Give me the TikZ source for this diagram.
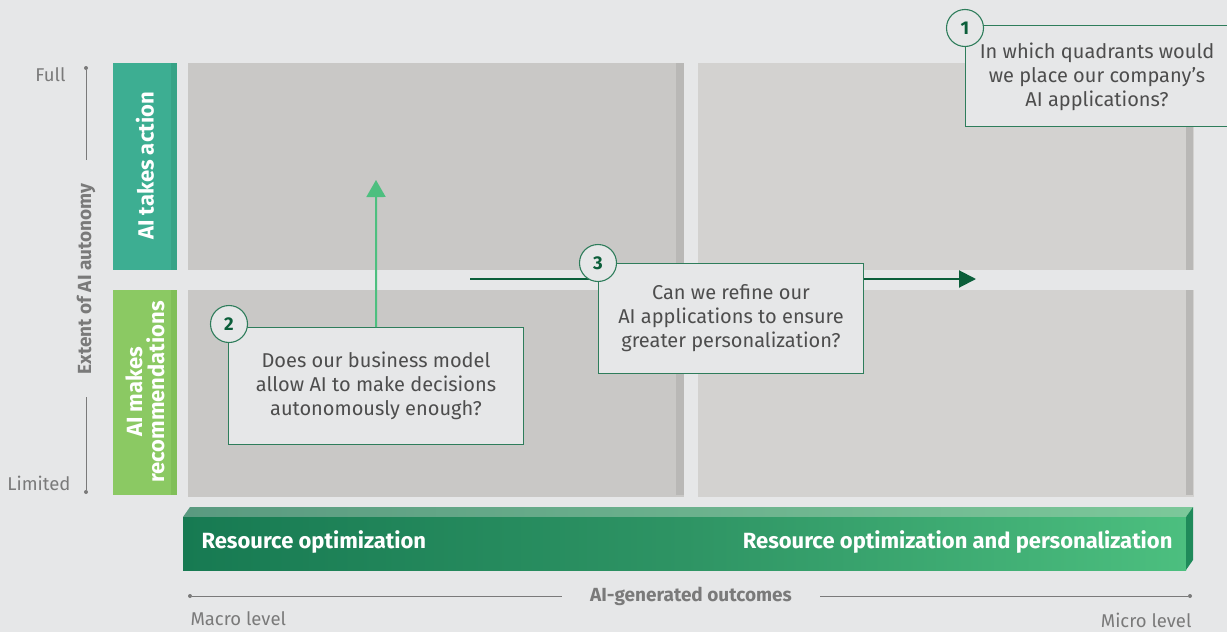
\documentclass[tikz,border=0pt]{standalone}
\usepackage{fontspec}
\setmainfont{Fira Sans}
\usetikzlibrary{arrows.meta}
\definecolor{bg}{HTML}{E6E7E8}
\definecolor{quadL}{HTML}{C9C8C6}
\definecolor{quadR}{HTML}{D3D2D0}
\definecolor{strip}{HTML}{B9B8B6}
\definecolor{teal}{HTML}{3DAE92}
\definecolor{tealdk}{HTML}{37A386}
\definecolor{lgreen}{HTML}{8BC963}
\definecolor{lgreendk}{HTML}{80BF58}
\definecolor{dkgreen}{HTML}{0B5E3A}
\definecolor{boxline}{HTML}{2E7D5B}
\definecolor{txt}{HTML}{4D4D4D}
\definecolor{axis}{HTML}{7A7A7A}
\definecolor{arrowlt}{HTML}{4DBF7F}
\definecolor{barL}{HTML}{177A52}
\definecolor{barM}{HTML}{2E9464}
\definecolor{barR}{HTML}{4CBF7F}
\definecolor{topL}{HTML}{5A9A80}
\definecolor{topR}{HTML}{7CC89A}
\definecolor{sideR}{HTML}{1F8A5A}
\tikzset{
  quad/.style={anchor=north west, inner sep=0, minimum width=496, minimum height=207, fill=#1},
  lbar/.style={anchor=north west, inner sep=0, minimum width=64, minimum height=207, fill=#1},
  qbox/.style={draw=boxline, line width=1.1pt, fill=bg, inner sep=0, anchor=north west},
  qtext/.style={text=txt, font=\fontsize{20}{24}\selectfont, align=center},
  num/.style={circle, draw=boxline, line width=1.1pt, fill=bg, minimum size=37, inner sep=0, text=dkgreen, font=\fontsize{18.5}{20}\selectfont\bfseries},
  axlabel/.style={text=axis, font=\fontsize{18.5}{21}\selectfont},
  axline/.style={draw=axis, line width=0.8pt},
  dotend/.style={circle, fill=axis, inner sep=0, minimum size=4},
  bartext/.style={text=white, font=\fontsize{22}{24}\selectfont\bfseries}
}
\begin{document}
\begin{tikzpicture}[x=1pt,y=-1pt]
\useasboundingbox (0,0) rectangle (1227,632);
\fill[bg] (0,0) rectangle (1227,632);

% quadrants
\node[quad=quadL] (q1) at (188,63) {};
\node[quad=quadR] (q2) at (698,63) {};
\node[quad=quadL] (q3) at (188,290) {};
\node[quad=quadR] (q4) at (698,290) {};
\fill[strip] (676,63) rectangle (684,270);
\fill[strip] (676,290) rectangle (684,495);
\fill[strip] (1186,63) rectangle (1193,270);
\fill[strip] (1186,290) rectangle (1193,495);

% left bars
\node[lbar=teal] (b1) at (113,63) {};
\fill[tealdk] (171,63) rectangle (177,270);
\node[lbar=lgreen, minimum height=205] (b2) at (113,290) {};
\fill[lgreendk] (171,290) rectangle (177,495);
\node[rotate=90, bartext] (t1) at (145,166) {AI takes action};
\node[rotate=90, bartext, font=\fontsize{22}{22}\selectfont\bfseries, align=center] (t2) at (145,392) {AI makes\\recommendations};

% vertical axis
\node[dotend] (vtop) at (86,68) {};
\node[dotend] (vbot) at (86,492) {};
\node[rotate=90, text=axis, font=\fontsize{19}{21}\selectfont\bfseries] (vlab) at (86,279) {Extent of AI autonomy};
\draw[axline] (vtop) -- (86,160);
\draw[axline] (86,397) -- (vbot);
\node[axlabel, anchor=east] (full) at (69,75) {Full};
\node[axlabel, anchor=east] (lim) at (74,483) {Limited};

% bottom 3D bar
\shade[left color=topL, right color=topR] (183,517) -- (190,507) -- (1193,507) -- (1186,517) -- cycle;
\shade[left color=barL, right color=barR, middle color=barM] (183,517) rectangle (1186,570);
\fill[sideR] (1186,517) -- (1193,507) -- (1193,560) -- (1186,570) -- cycle;
\node[bartext, anchor=west] (ro) at (198,542) {Resource optimization};
\node[bartext, anchor=east] (rop) at (1176,542) {Resource optimization and personalization};

% horizontal axis
\node[dotend] (hl) at (190,596) {};
\node[dotend] (hr) at (1190,596) {};
\node[text=axis, font=\fontsize{19}{21}\selectfont\bfseries] (hlab) at (691,596) {AI-generated outcomes};
\draw[axline] (hl) -- (562,596);
\draw[axline] (820,596) -- (hr);
\node[axlabel, anchor=west] (macro) at (187,619) {Macro level};
\node[axlabel, anchor=east] (micro) at (1195,620) {Micro level};

% arrows
\coordinate (a3s) at (470,279);
\coordinate (a3e) at (976,279);
\draw[dkgreen, line width=2pt, -{Triangle[length=17pt,width=17pt]}] (a3s) -- (a3e);

% box 2
\node[qbox, minimum width=295, minimum height=117] (box2) at (228,327) {};
\coordinate (a2e) at (376,180);
\draw[arrowlt, line width=2pt, -{Triangle[length=17pt,width=19pt]}] (box2.north) -- (a2e);
\node[qtext] (tx2) at (376,386) {Does our business model\\allow AI to make decisions\\autonomously enough?};
\node[num] (n2) at (229,324) {2};

% box 3
\node[qbox, minimum width=265, minimum height=110] (box3) at (598,263) {};
\node[qtext] (tx3) at (731,318) {Can we refine our\\AI applications to ensure\\greater personalization?};
\node[num] (n3) at (598,263) {3};

% box 1
\node[qbox, minimum width=280, minimum height=101] (box1) at (965,25) {};
\node[qtext] (tx1) at (1097,77) {In which quadrants would\\we place our company’s\\AI applications?};
\node[num] (n1) at (965,28) {1};
\end{tikzpicture}
\end{document}
